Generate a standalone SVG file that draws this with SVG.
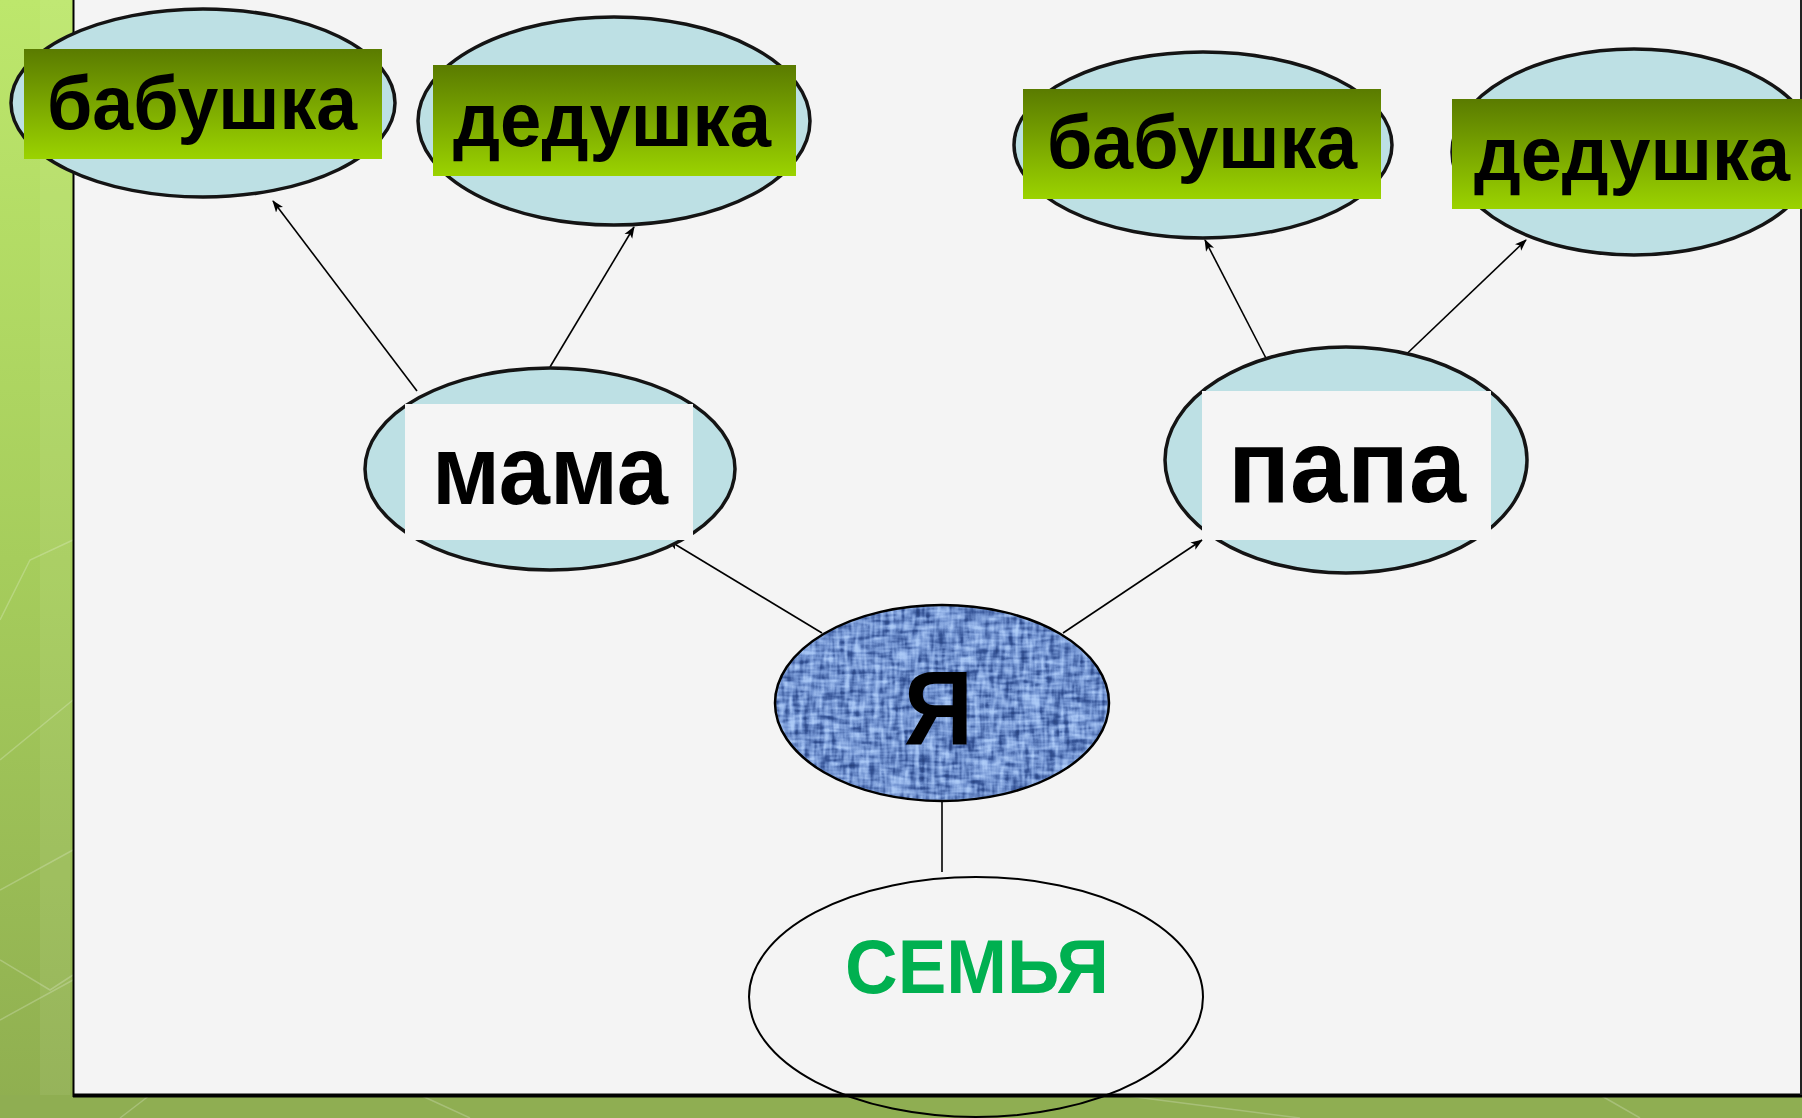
<svg xmlns="http://www.w3.org/2000/svg" width="1802" height="1118" viewBox="0 0 1802 1118">
<style>
  .oval { fill: #bde0e4; stroke: #141414; stroke-width: 3.5; }
  .tag { fill: url(#tagGrad); }
  .plate { fill: #f5f5f5; }
  .lbl { font-family: "Liberation Sans", Arial, sans-serif; font-weight: bold; fill: #000; }
  .conn { stroke: #000; stroke-width: 1.6; fill: none; }
  .deco { stroke: #ffffff; stroke-opacity: 0.22; stroke-width: 1.5; fill: none; }
</style>
<defs>
  <linearGradient id="tagGrad" x1="0" y1="0" x2="0" y2="1">
    <stop offset="0" stop-color="#5a7b00"/>
    <stop offset="1" stop-color="#9bd300"/>
  </linearGradient>
  <linearGradient id="sideGrad" x1="0" y1="0" x2="0" y2="1">
    <stop offset="0" stop-color="#bde76c"/>
    <stop offset="0.5" stop-color="#a6cd5c"/>
    <stop offset="1" stop-color="#8fae50"/>
  </linearGradient>
  <marker id="arr" viewBox="0 0 12 10" refX="11" refY="5" markerWidth="12" markerHeight="10" markerUnits="userSpaceOnUse" orient="auto">
    <path d="M0,0.5 L12,5 L0,9.5 L3,5 Z" fill="#000"/>
  </marker>
  <filter id="denim" x="0" y="0" width="1" height="1" color-interpolation-filters="sRGB">
    <feTurbulence type="fractalNoise" baseFrequency="0.045 0.2" numOctaves="2" seed="4" result="a"/>
    <feTurbulence type="fractalNoise" baseFrequency="0.2 0.045" numOctaves="2" seed="9" result="b"/>
    <feComposite in="a" in2="b" operator="arithmetic" k2="0.5" k3="0.5" result="c"/>
    <feColorMatrix in="c" type="matrix" values="1 0 0 0 0  1 0 0 0 0  1 0 0 0 0  0 0 0 0 1" result="g"/>
    <feComponentTransfer>
      <feFuncR type="table" tableValues="0.12 0.12 0.22 0.45 0.64 0.72 0.72"/>
      <feFuncG type="table" tableValues="0.22 0.22 0.34 0.58 0.76 0.84 0.84"/>
      <feFuncB type="table" tableValues="0.45 0.45 0.60 0.82 0.95 0.99 0.99"/>
    </feComponentTransfer>
  </filter>
  <clipPath id="meClip">
    <ellipse cx="942" cy="703" rx="167" ry="98"/>
  </clipPath>
</defs>

<g id="background">
  <rect x="0" y="0" width="1802" height="1118" fill="url(#sideGrad)"/>
  <rect x="0" y="1095" width="1802" height="23" fill="#8fae52"/>
  <rect x="40" y="0" width="30" height="1095" fill="#ffffff" opacity="0.06"/>
  <path class="deco" d="M0,760 L73,700 M0,890 L73,850 M0,1020 L73,980 M0,960 L50,990 L73,975 M0,620 L30,560 L73,540"/>
  <path class="deco" d="M120,1118 L150,1095 M420,1095 L470,1118 M1120,1095 L1300,1118 M1600,1095 L1640,1118"/>
  <rect x="73" y="0" width="1727" height="1095" fill="#f4f4f4"/>
  <line x1="73.5" y1="0" x2="73.5" y2="1097" stroke="#000" stroke-width="2"/>
  <line x1="73" y1="1095.5" x2="1802" y2="1095.5" stroke="#000" stroke-width="4"/>
  <line x1="1801" y1="0" x2="1801" y2="1095" stroke="#222" stroke-width="2"/>
</g>

<g id="connectors">
  <line class="conn" x1="417" y1="391" x2="273" y2="201" marker-end="url(#arr)"/>
  <line class="conn" x1="550" y1="367" x2="634" y2="227" marker-end="url(#arr)"/>
  <line class="conn" x1="1270" y1="366" x2="1205" y2="240" marker-end="url(#arr)"/>
  <line class="conn" x1="1394" y1="366" x2="1526" y2="240" marker-end="url(#arr)"/>
  <line class="conn" x1="822" y1="633" x2="668" y2="540" marker-end="url(#arr)"/>
  <line class="conn" x1="1063" y1="633" x2="1202" y2="540" marker-end="url(#arr)"/>
  <line class="conn" x1="942" y1="802" x2="942" y2="872"/>
</g>

<g id="node-babushka-1">
  <ellipse class="oval" cx="203" cy="103" rx="192" ry="94"/>
  <rect class="tag" x="24" y="49" width="358" height="110"/>
  <text class="lbl" x="47" y="129" font-size="76" textLength="310" lengthAdjust="spacingAndGlyphs">бабушка</text>
</g>

<g id="node-dedushka-1">
  <ellipse class="oval" cx="614" cy="121" rx="196" ry="104"/>
  <rect class="tag" x="433" y="65" width="363" height="111"/>
  <text class="lbl" x="453" y="146" font-size="76" textLength="318" lengthAdjust="spacingAndGlyphs">дедушка</text>
</g>

<g id="node-babushka-2">
  <ellipse class="oval" cx="1203" cy="145" rx="189" ry="93"/>
  <rect class="tag" x="1023" y="89" width="358" height="110"/>
  <text class="lbl" x="1047" y="168" font-size="76" textLength="310" lengthAdjust="spacingAndGlyphs">бабушка</text>
</g>

<g id="node-dedushka-2">
  <ellipse class="oval" cx="1634" cy="152" rx="182" ry="103"/>
  <rect class="tag" x="1452" y="99" width="350" height="110"/>
  <text class="lbl" x="1474" y="180" font-size="76" textLength="316" lengthAdjust="spacingAndGlyphs">дедушка</text>
</g>

<g id="node-mama">
  <ellipse class="oval" cx="550" cy="469" rx="185" ry="101"/>
  <rect class="plate" x="405" y="404" width="288" height="136"/>
  <text class="lbl" x="432" y="504" font-size="98" textLength="236" lengthAdjust="spacingAndGlyphs">мама</text>
</g>

<g id="node-papa">
  <ellipse class="oval" cx="1346" cy="460" rx="181" ry="113"/>
  <rect class="plate" x="1202" y="391" width="289" height="149"/>
  <text class="lbl" x="1228" y="502" font-size="104" textLength="238" lengthAdjust="spacingAndGlyphs">папа</text>
</g>

<g id="node-ya">
  <ellipse cx="942" cy="703" rx="167" ry="98" fill="#6a8ccb"/>
  <rect x="770" y="600" width="345" height="210" filter="url(#denim)" clip-path="url(#meClip)"/>
  <ellipse cx="942" cy="703" rx="167" ry="98" fill="none" stroke="#000" stroke-width="2.5"/>
  <text class="lbl" x="904" y="745" font-size="106" textLength="69" lengthAdjust="spacingAndGlyphs">Я</text>
</g>

<g id="node-semya">
  <ellipse cx="976" cy="997" rx="227" ry="120" fill="none" stroke="#000" stroke-width="2"/>
  <text class="lbl" x="845" y="993" font-size="76" textLength="264" lengthAdjust="spacingAndGlyphs" style="fill:#00b050">СЕМЬЯ</text>
</g>
</svg>
